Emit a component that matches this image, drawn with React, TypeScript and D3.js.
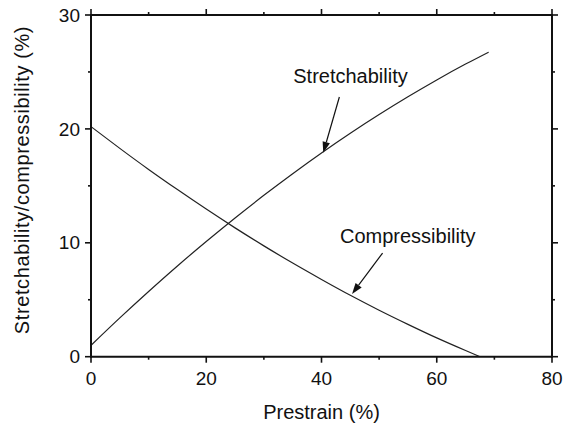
import * as React from "react";
import * as d3 from "d3";

const prestrain = [0, 5, 10, 15, 20, 25, 30, 35, 40, 45, 50, 55, 60, 65, 69];
const stretchability = [1.0, 3.41, 5.73, 7.97, 10.11, 12.18, 14.17, 16.07, 17.89, 19.62, 21.26, 22.82, 24.3, 25.69, 26.74];

const prestrainC = [0, 5, 10, 15, 20, 25, 30, 35, 40, 45, 50, 55, 60, 65, 67.5];
const compressibility = [20.2, 18.29, 16.44, 14.67, 12.96, 11.31, 9.73, 8.22, 6.78, 5.39, 4.08, 2.84, 1.65, 0.54, 0];

const xMajor = [0, 20, 40, 60, 80];
const xMinor = [10, 30, 50, 70];
const yMajor = [0, 10, 20, 30];
const yMinor = [5, 15, 25];

// label text position, arrow tail, arrow tip (data units)
const notes = [
  { text: "Stretchability", tx: 35.1, ty: 24.05, x0: 43.1, y0: 22.8, x1: 40.3, y1: 17.9 },
  { text: "Compressibility", tx: 43.2, ty: 10.0, x0: 50.6, y0: 9.1, x1: 45.3, y1: 5.5 },
];

const W = 567;
const H = 430;
const m = { left: 91, right: 15, top: 15, bottom: 73.3 };
const font = "'Liberation Sans', Arial, sans-serif";

export default function App() {
  const x = d3.scaleLinear().domain([0, 80]).range([m.left, W - m.right]);
  const y = d3.scaleLinear().domain([0, 30]).range([H - m.bottom, m.top]);
  const x0 = x(0), x1 = x(80), y0 = y(0), y1 = y(30);

  const line = d3
    .line<[number, number]>()
    .x((d) => x(d[0]))
    .y((d) => y(d[1]))
    .curve(d3.curveMonotoneX);

  const sPts = prestrain.map((p, i) => [p, stretchability[i]] as [number, number]);
  const cPts = prestrainC.map((p, i) => [p, compressibility[i]] as [number, number]);

  const major = 6;
  const minor = 3;

  const arrow = (n: typeof notes[0], i: number) => {
    const ax = x(n.x0), ay = y(n.y0), bx = x(n.x1), by = y(n.y1);
    const ang = Math.atan2(by - ay, bx - ax);
    const len = 11, half = 3.8;
    const baseX = bx - len * Math.cos(ang), baseY = by - len * Math.sin(ang);
    const px = -Math.sin(ang) * half, py = Math.cos(ang) * half;
    return (
      <g key={i}>
        <text x={x(n.tx)} y={y(n.ty)} fontSize={20} fontFamily={font} fill="#111">
          {n.text}
        </text>
        <line x1={ax} y1={ay} x2={baseX} y2={baseY} stroke="#111" strokeWidth={1.2} />
        <polygon
          points={`${bx},${by} ${baseX + px},${baseY + py} ${baseX - px},${baseY - py}`}
          fill="#111"
        />
      </g>
    );
  };

  return (
    <svg width={W} height={H} style={{ position: "absolute", left: 0, top: 0, background: "#fff" }}>
      <rect width={W} height={H} fill="#fff" />
      <path d={line(sPts) || ""} fill="none" stroke="#222" strokeWidth={1.2} />
      <path d={line(cPts) || ""} fill="none" stroke="#222" strokeWidth={1.2} />

      {/* frame */}
      <g stroke="#111" strokeWidth={2}>
        <line x1={x0} x2={x1} y1={y0} y2={y0} />
        <line x1={x0} x2={x1} y1={y1} y2={y1} />
        <line x1={x0} x2={x0} y1={y0 + 1} y2={y1 - 1} />
        <line x1={x1} x2={x1} y1={y0 + 1} y2={y1 - 1} />
      </g>

      {/* ticks */}
      <g stroke="#111" strokeWidth={1.6}>
        {xMajor.map((t) => (
          <g key={"xm" + t}>
            <line x1={x(t)} x2={x(t)} y1={y0} y2={y0 + major} />
            <line x1={x(t)} x2={x(t)} y1={y1} y2={y1 - major} />
          </g>
        ))}
        {xMinor.map((t) => (
          <g key={"xn" + t}>
            <line x1={x(t)} x2={x(t)} y1={y0} y2={y0 + minor} />
            <line x1={x(t)} x2={x(t)} y1={y1} y2={y1 - minor} />
          </g>
        ))}
        {yMajor.map((t) => (
          <g key={"ym" + t}>
            <line x1={x0} x2={x0 - major} y1={y(t)} y2={y(t)} />
            <line x1={x1} x2={x1 + major} y1={y(t)} y2={y(t)} />
          </g>
        ))}
        {yMinor.map((t) => (
          <g key={"yn" + t}>
            <line x1={x0} x2={x0 - minor} y1={y(t)} y2={y(t)} />
            <line x1={x1} x2={x1 + minor} y1={y(t)} y2={y(t)} />
          </g>
        ))}
      </g>

      {/* tick labels */}
      <g fontFamily={font} fontSize={19} fill="#111">
        {xMajor.map((t) => (
          <text key={"xl" + t} x={x(t)} y={y0 + 28.5} textAnchor="middle">
            {t}
          </text>
        ))}
        {yMajor.map((t) => (
          <text key={"yl" + t} x={x0 - 11} y={y(t) + 6.6} textAnchor="end">
            {t}
          </text>
        ))}
      </g>

      {/* axis titles */}
      <text
        x={(x0 + x1) / 2}
        y={419}
        textAnchor="middle"
        fontFamily={font}
        fontSize={20}
        fill="#111"
      >
        Prestrain (%)
      </text>
      <text
        transform={`translate(29,180) rotate(-90)`}
        textAnchor="middle"
        fontFamily={font}
        fontSize={20}
        letterSpacing={0.6}
        fill="#111"
      >
        Stretchability/compressibility (%)
      </text>

      {notes.map(arrow)}
    </svg>
  );
}
